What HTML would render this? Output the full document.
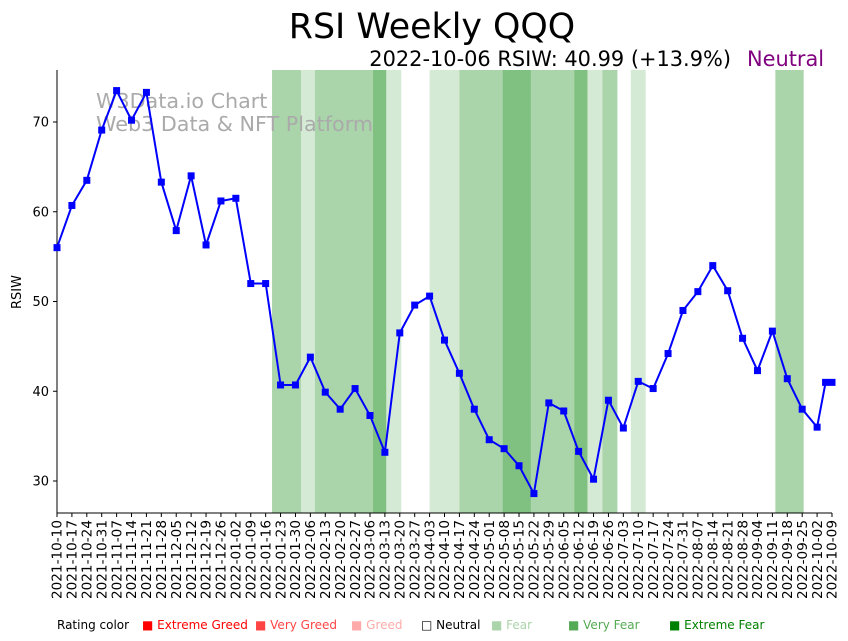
<!DOCTYPE html>
<html><head><meta charset="utf-8"><style>
body{margin:0;background:#fff;}
svg{display:block;font-family:"DejaVu Sans","Liberation Sans",sans-serif;}
</style></head><body>
<svg id="c" width="848" height="641">
<text x="432" y="38" font-size="34.8" text-anchor="middle">RSI Weekly QQQ</text>
<text x="731" y="66" font-size="20.9" text-anchor="end">2022-10-06 RSIW: 40.99 (+13.9%)</text>
<text x="747" y="66" font-size="20.9" fill="#800080">Neutral</text>
<g id="bands"></g>
<text x="96" y="108" font-size="20.7" fill="#aaaaaa">W3Data.io Chart</text>
<text x="96" y="131" font-size="20.7" fill="#aaaaaa">Web3 Data &amp; NFT Platform</text>
<g id="axes"></g>
<g id="series"></g>
<text transform="translate(21,292) rotate(-90)" font-size="13" text-anchor="middle">RSIW</text>
<g id="legend" font-size="12">
<text x="57" y="629">Rating color</text>
<text x="142" y="629" fill="#ff0000">■ Extreme Greed</text>
<text x="255" y="629" fill="#ff4444">■ Very Greed</text>
<text x="351" y="629" fill="#ffaaaa">■ Greed</text>
<text x="421" y="629" fill="#000">□ Neutral</text>
<text x="491" y="629" fill="#aad4aa">■ Fear</text>
<text x="568" y="629" fill="#55aa55">■ Very Fear</text>
<text x="669" y="629" fill="#008000">■ Extreme Fear</text>
</g>
</svg>
<script>
const rsiValues=[56.0,60.7,63.5,69.1,73.5,70.2,73.3,63.3,57.9,64.0,56.3,61.2,61.5,52.0,52.0,40.7,40.7,43.8,39.9,38.0,40.3,37.3,33.2,46.5,49.6,50.6,45.7,42.0,38.0,34.6,33.6,31.7,28.6,38.7,37.8,33.3,30.2,39.0,35.9,41.1,40.3,44.2,49.0,51.1,54.0,51.2,45.9,42.3,46.7,41.4,38.0,36.0,40.99,40.99];
const rsiWeeks=[0,1,2,3,4,5,6,7,8,9,10,11,12,13,14,15,16,17,18,19,20,21,22,23,24,25,26,27,28,29,30,31,32,33,34,35,36,37,38,39,40,41,42,43,44,45,46,47,48,49,50,51,51.57,52];
const bandStarts=[14.43,16.37,17.3,21.2,22.1,25.0,27.0,29.9,31.8,34.7,35.6,36.6,38.5,48.2];
const bandEnds=[16.37,17.3,21.2,22.1,23.1,27.0,29.9,31.8,34.7,35.6,36.6,37.6,39.5,50.1];
const bandLevels=["fear","light","fear","very","light","light","fear","very","fear","very","light","fear","light","fear"];
const yTicks=[30,40,50,60,70];
const xLabels=["2021-10-10","2021-10-17","2021-10-24","2021-10-31","2021-11-07","2021-11-14","2021-11-21","2021-11-28","2021-12-05","2021-12-12","2021-12-19","2021-12-26","2022-01-02","2022-01-09","2022-01-16","2022-01-23","2022-01-30","2022-02-06","2022-02-13","2022-02-20","2022-02-27","2022-03-06","2022-03-13","2022-03-20","2022-03-27","2022-04-03","2022-04-10","2022-04-17","2022-04-24","2022-05-01","2022-05-08","2022-05-15","2022-05-22","2022-05-29","2022-06-05","2022-06-12","2022-06-19","2022-06-26","2022-07-03","2022-07-10","2022-07-17","2022-07-24","2022-07-31","2022-08-07","2022-08-14","2022-08-21","2022-08-28","2022-09-04","2022-09-11","2022-09-18","2022-09-25","2022-10-02","2022-10-09"];
const NS="http://www.w3.org/2000/svg";
const X0=57,X1=832,YT=70,YB=513;
const xs=w=>X0+w*(X1-X0)/52;
const ys=v=>122+(70-v)*8.975;
const colors={light:"#d5ead5",fear:"#aad4aa",very:"#80c080"};
function mk(t,a,p){const e=document.createElementNS(NS,t);for(const k in a)e.setAttribute(k,a[k]);p.appendChild(e);return e;}
const bands=document.getElementById('bands');
bandStarts.forEach((s,i)=>{const r=mk('rect',{x:xs(s),y:YT,width:xs(bandEnds[i])-xs(s),height:YB-YT,fill:colors[bandLevels[i]]},bands);

});
const axes=document.getElementById('axes');
const ya=mk('line',{x1:X0,y1:YT,x2:X0,y2:YB,stroke:'#000','stroke-width':1},axes);


const xa=mk('line',{x1:X0,y1:YB,x2:X1,y2:YB,stroke:'#000','stroke-width':1},axes);


yTicks.forEach(v=>{mk('line',{x1:X0-4,y1:ys(v),x2:X0,y2:ys(v),stroke:'#000'},axes);
const t=mk('text',{x:X0-8,y:ys(v)+4.5,'font-size':13,'text-anchor':'end'},axes);t.textContent=v;

});
xLabels.forEach((l,i)=>{const x=xs(i);mk('line',{x1:x,y1:YB,x2:x,y2:YB+4,stroke:'#000'},axes);
const t=mk('text',{transform:`translate(${x+4.7},${YB+7}) rotate(-90)`,'font-size':13.6,'text-anchor':'end'},axes);t.textContent=l;

});
const ser=document.getElementById('series');
const pts=rsiValues.map((v,i)=>xs(rsiWeeks[i]).toFixed(1)+','+ys(v).toFixed(1)).join(' ');
const pl=mk('polyline',{points:pts,fill:'none',stroke:'#0000ff','stroke-width':2},ser);


rsiValues.forEach((v,i)=>{const r=mk('rect',{x:xs(rsiWeeks[i])-3.5,y:ys(v)-3.5,width:7,height:7,fill:'#0000ff'},ser);

});
</script>
</body></html>
